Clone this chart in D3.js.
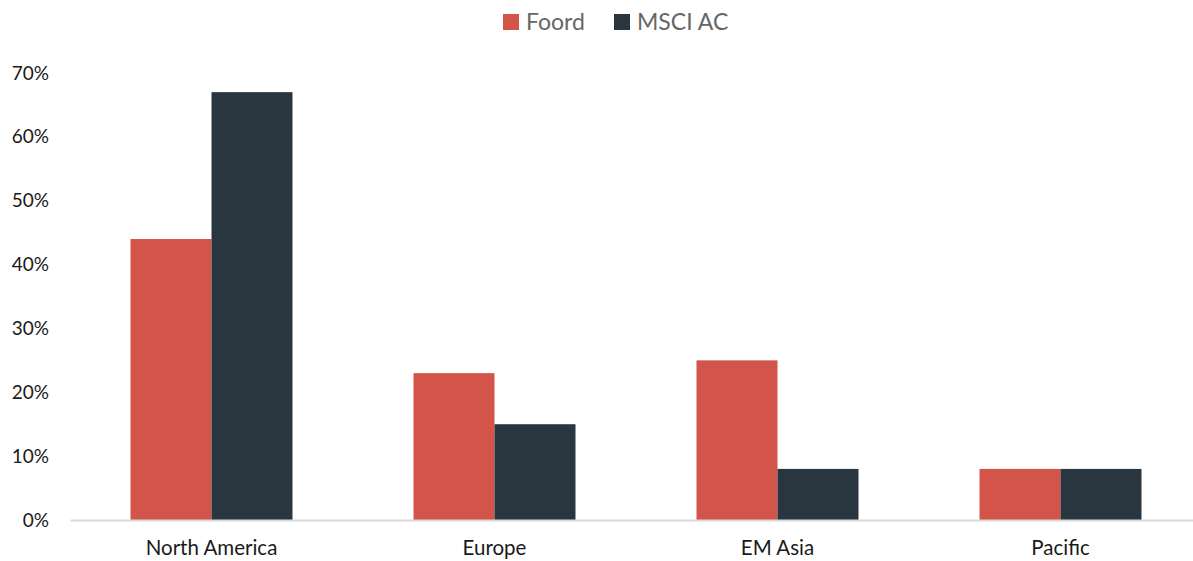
<!DOCTYPE html>
<html>
<head>
<meta charset="utf-8">
<script src="https://cdn.jsdelivr.net/npm/d3@7"></script>
<style>
  body { margin: 0; background: #fff; }
  text { font-family: Lato, "Open Sans", sans-serif; }
</style>
</head>
<body>
<div id="chart"></div>
<script>
// regions and weights (%)
const regions = ["North America", "Europe", "EM Asia", "Pacific"];
const seriesNames = ["Foord", "MSCI AC"];
const foord = [44, 23, 25, 8];
const msci = [67, 15, 8, 8];
const yTicks = [0, 10, 20, 30, 40, 50, 60, 70];
const colors = ["#d3554a", "#2a363f"];

const width = 1193, height = 561;
const margin = {top: 73, right: -9, bottom: 41, left: 70};

const svg = d3.select("#chart")
  .append("svg")
    .attr("width", width)
    .attr("height", height);

const x0 = d3.scaleBand()
  .domain(regions)
  .range([margin.left, width - margin.right])
  .paddingInner(0.4276)
  .paddingOuter(0.2138);

const x1 = d3.scaleBand()
  .domain(seriesNames)
  .range([0, x0.bandwidth()]);

const y = d3.scaleLinear()
  .domain([0, 70])
  .range([height - margin.bottom, margin.top]);

// y axis labels, no line
const yAxis = svg.append("g")
  .attr("transform", "translate(" + (margin.left - 21) + ",0)")
  .call(d3.axisLeft(y).tickValues(yTicks).tickFormat(d => d + "%").tickSize(0).tickPadding(0));
yAxis.select(".domain").remove();
yAxis.selectAll("text")
  .attr("font-size", 19)
  .attr("fill", "#1a1a1a");

// bars
const rows = regions.map((r, i) => ({region: r, values: [foord[i], msci[i]]}));
const groups = svg.append("g")
  .selectAll("g")
  .data(rows)
  .join("g")
    .attr("transform", d => "translate(" + x0(d.region) + ",0)");

groups.selectAll("rect")
  .data(d => d.values.map((v, j) => ({name: seriesNames[j], value: v, j: j})))
  .join("rect")
    .attr("x", d => x1(d.name))
    .attr("width", x1.bandwidth())
    .attr("y", d => y(d.value))
    .attr("height", d => y(0) - y(d.value))
    .attr("fill", d => colors[d.j]);

// x axis
const xAxis = svg.append("g")
  .attr("transform", "translate(0," + y(0) + ")")
  .call(d3.axisBottom(x0).tickSize(0).tickPadding(20));
xAxis.select(".domain")
  .attr("stroke", "#d9d9d9")
  .attr("stroke-width", 2);
xAxis.selectAll("text")
  .attr("font-size", 20.5)
  .attr("fill", "#1a1a1a");

// legend
const legendX = [503, 614];
const legend = svg.append("g")
  .selectAll("g")
  .data(seriesNames)
  .join("g")
    .attr("transform", (d, i) => "translate(" + legendX[i] + ",14)");
legend.append("rect")
  .attr("width", 16)
  .attr("height", 16)
  .attr("fill", (d, i) => colors[i]);
legend.append("text")
  .attr("x", 23)
  .attr("y", 8)
  .attr("dy", "0.36em")
  .attr("font-size", 23)
  .attr("fill", "#666666")
  .text(d => d);
</script>
</body>
</html>
